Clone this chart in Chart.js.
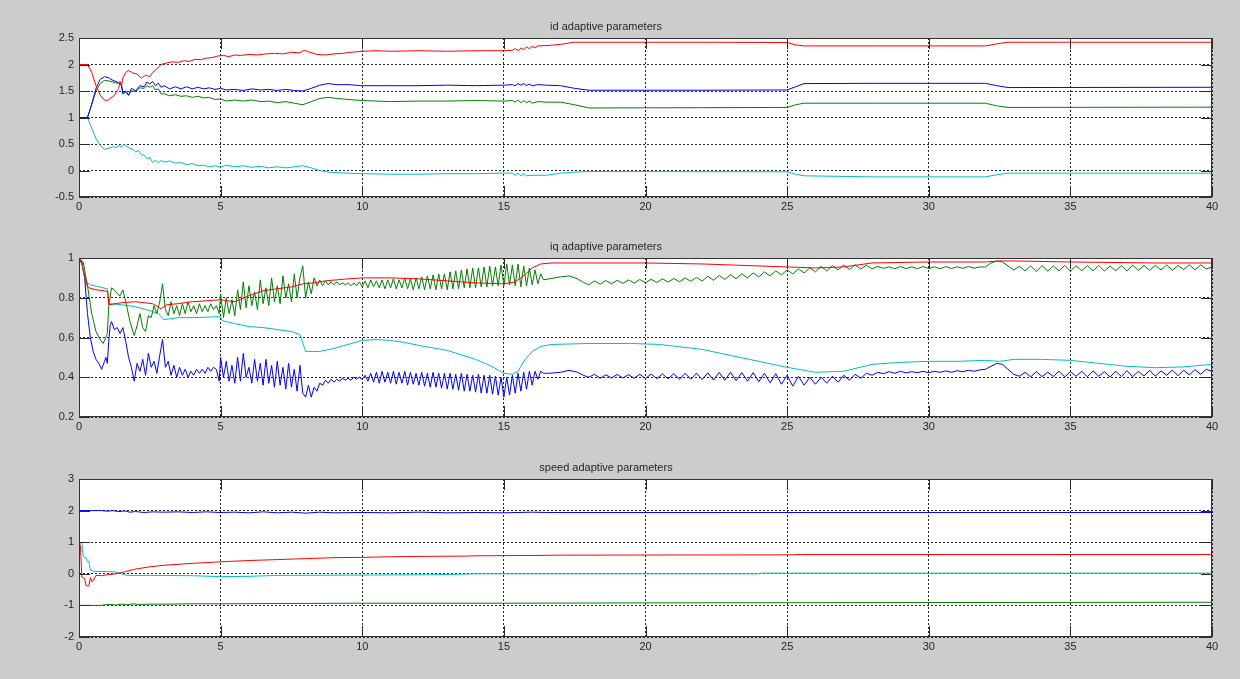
<!DOCTYPE html>
<html>
<head>
<meta charset="utf-8">
<title>adaptive parameters</title>
<script src="https://cdn.jsdelivr.net/npm/chart.js@4.4.1/dist/chart.umd.min.js"></script>
<style>
  html, body { margin: 0; padding: 0; background: #cccccc; }
  body { width: 1240px; height: 679px; position: relative; overflow: hidden; }
  canvas { position: absolute; left: 0; }
</style>
</head>
<body>
<canvas id="idChart" width="1240" height="225" style="top:0px"></canvas>
<canvas id="iqChart" width="1240" height="220" style="top:225px"></canvas>
<canvas id="spChart" width="1240" height="234" style="top:445px"></canvas>
<script>
// ---- time axis (seconds) ----
const timeTicks = [0, 5, 10, 15, 20, 25, 30, 35, 40];
const timeLabels = ['0', '5', '10', '15', '20', '25', '30', '35', '40'];

// ---- id adaptive parameters ----
const idTitle = 'id adaptive parameters';
const idTicks = [-0.5, 0, 0.5, 1, 1.5, 2, 2.5];
const idLabels = ['-0.5', '0', '0.5', '1', '1.5', '2', '2.5'];
const idRed = [[0,2],[0.3,2],[0.45,1.85],[0.6,1.6],[0.75,1.42],[0.9,1.33],[1.0,1.32],[1.1,1.36],[1.25,1.42],[1.4,1.55],[1.45,1.68],[1.5,1.6],[1.55,1.75],[1.65,1.85],[1.75,1.89],[1.9,1.84],[2.05,1.82],[2.2,1.74],[2.35,1.8],[2.5,1.77],[2.6,1.85],[2.75,1.92],[2.9,2.0],[3.1,2.03],[3.3,2.05],[3.5,2.04],[3.7,2.07],[3.9,2.06],[4.1,2.1],[4.3,2.09],[4.5,2.12],[4.7,2.13],[4.9,2.16],[5.1,2.17],[5.3,2.15],[5.5,2.18],[5.7,2.17],[6,2.19],[6.3,2.18],[6.6,2.2],[6.9,2.21],[7.2,2.2],[7.5,2.23],[7.8,2.22],[7.95,2.27],[8.1,2.24],[8.4,2.19],[8.7,2.18],[9,2.2],[9.3,2.21],[9.6,2.23],[10,2.25],[10.5,2.26],[11,2.25],[12,2.26],[13,2.25],[14,2.26],[15,2.26],[15.3,2.27],[15.4,2.3],[15.5,2.26],[15.6,2.31],[15.7,2.28],[15.8,2.33],[15.9,2.3],[16.0,2.34],[16.1,2.32],[16.2,2.35],[16.6,2.36],[17,2.38],[17.5,2.42],[18,2.42],[22,2.42],[25,2.415],[25.3,2.37],[25.6,2.35],[28,2.35],[32,2.35],[32.4,2.39],[32.8,2.42],[40,2.42]];
const idBlue = [[0,1],[0.3,1],[0.45,1.25],[0.6,1.55],[0.75,1.72],[0.9,1.77],[1.05,1.75],[1.2,1.7],[1.4,1.66],[1.5,1.62],[1.55,1.45],[1.65,1.5],[1.75,1.42],[1.85,1.55],[2.0,1.5],[2.15,1.6],[2.3,1.58],[2.4,1.67],[2.5,1.63],[2.6,1.68],[2.7,1.6],[2.8,1.65],[2.9,1.57],[3.0,1.6],[3.2,1.54],[3.4,1.58],[3.6,1.54],[3.8,1.58],[4.0,1.54],[4.2,1.57],[4.4,1.54],[4.6,1.56],[4.8,1.53],[5.0,1.55],[5.2,1.52],[5.5,1.53],[5.8,1.51],[6.1,1.54],[6.4,1.52],[6.7,1.53],[7.0,1.51],[7.3,1.53],[7.6,1.51],[7.9,1.5],[8.2,1.55],[8.5,1.61],[8.8,1.64],[9.1,1.62],[9.5,1.62],[10,1.6],[11,1.6],[12,1.6],[13,1.61],[14,1.6],[15,1.61],[15.3,1.62],[15.4,1.6],[15.5,1.64],[15.6,1.61],[15.7,1.64],[15.8,1.6],[15.9,1.63],[16.0,1.6],[16.2,1.62],[16.5,1.61],[17,1.6],[17.5,1.55],[18,1.515],[22,1.515],[25,1.52],[25.3,1.58],[25.6,1.64],[28,1.645],[32,1.645],[32.4,1.6],[32.8,1.565],[40,1.57]];
const idGreen = [[0,1],[0.3,1],[0.45,1.25],[0.6,1.5],[0.75,1.64],[0.9,1.7],[1.05,1.69],[1.2,1.67],[1.4,1.64],[1.5,1.6],[1.55,1.45],[1.65,1.48],[1.75,1.42],[1.85,1.5],[2.0,1.49],[2.15,1.56],[2.3,1.55],[2.4,1.6],[2.5,1.57],[2.6,1.6],[2.7,1.52],[2.8,1.54],[2.9,1.44],[3.0,1.45],[3.2,1.41],[3.4,1.43],[3.6,1.4],[3.8,1.41],[4.0,1.38],[4.2,1.4],[4.4,1.37],[4.6,1.38],[4.8,1.34],[5.0,1.35],[5.2,1.31],[5.5,1.33],[5.8,1.31],[6.1,1.33],[6.4,1.3],[6.7,1.31],[7.0,1.28],[7.3,1.3],[7.6,1.27],[7.9,1.24],[8.2,1.3],[8.5,1.36],[8.8,1.38],[9.1,1.36],[9.5,1.34],[10,1.32],[11,1.3],[12,1.31],[13,1.31],[14,1.32],[15,1.31],[15.3,1.32],[15.4,1.29],[15.5,1.33],[15.6,1.28],[15.7,1.32],[15.8,1.28],[15.9,1.31],[16.0,1.27],[16.2,1.3],[16.5,1.29],[17,1.29],[17.5,1.24],[18,1.18],[22,1.185],[25,1.19],[25.3,1.24],[25.6,1.27],[28,1.27],[32,1.27],[32.4,1.22],[32.8,1.19],[40,1.195]];
const idCyan = [[0,1],[0.3,1],[0.45,0.8],[0.6,0.6],[0.75,0.47],[0.9,0.4],[1.05,0.42],[1.2,0.45],[1.3,0.43],[1.4,0.47],[1.5,0.44],[1.6,0.5],[1.7,0.45],[1.8,0.42],[1.9,0.4],[2.0,0.35],[2.1,0.38],[2.2,0.3],[2.3,0.29],[2.4,0.22],[2.5,0.25],[2.6,0.15],[2.7,0.2],[2.8,0.14],[2.9,0.19],[3.0,0.16],[3.2,0.18],[3.4,0.14],[3.6,0.15],[3.8,0.11],[4.0,0.13],[4.2,0.09],[4.4,0.1],[4.6,0.07],[4.8,0.09],[5.0,0.06],[5.2,0.1],[5.5,0.07],[5.8,0.09],[6.1,0.06],[6.4,0.08],[6.7,0.05],[7.0,0.07],[7.3,0.05],[7.6,0.07],[7.9,0.09],[8.2,0.05],[8.5,0.0],[8.8,-0.03],[9.1,-0.04],[9.5,-0.05],[10,-0.06],[11,-0.07],[12,-0.07],[13,-0.06],[14,-0.06],[15,-0.05],[15.3,-0.05],[15.4,-0.09],[15.5,-0.05],[15.6,-0.1],[15.7,-0.06],[15.8,-0.1],[16,-0.09],[16.5,-0.09],[17,-0.05],[17.5,-0.03],[18,-0.02],[25,-0.025],[25.3,-0.07],[25.6,-0.1],[28,-0.12],[32,-0.12],[32.4,-0.08],[32.8,-0.05],[40,-0.05]];

// ---- iq adaptive parameters ----
const iqTitle = 'iq adaptive parameters';
const iqTicks = [0.2, 0.4, 0.6, 0.8, 1];
const iqLabels = ['0.2', '0.4', '0.6', '0.8', '1'];
const iqRed = [[0,1],[0.1,0.97],[0.25,0.87],[0.35,0.85],[0.6,0.84],[0.9,0.835],[1.02,0.83],[1.05,0.765],[1.5,0.775],[2,0.78],[2.3,0.775],[2.6,0.77],[2.9,0.745],[3.1,0.765],[3.5,0.77],[4,0.78],[4.5,0.785],[5,0.79],[5.5,0.78],[6,0.81],[6.5,0.835],[7,0.845],[7.5,0.855],[7.9,0.87],[8.3,0.875],[8.7,0.885],[9.5,0.895],[10,0.9],[11,0.9],[12,0.895],[13,0.885],[14,0.875],[15,0.87],[15.4,0.88],[15.7,0.91],[16,0.95],[16.3,0.97],[16.7,0.975],[18,0.975],[20,0.975],[22,0.97],[24,0.96],[25,0.955],[26,0.95],[27,0.955],[28,0.975],[30,0.98],[32,0.98],[32.5,0.985],[33,0.985],[35,0.98],[38,0.975],[40,0.975]];
const iqCyan = [[0,1],[0.1,0.97],[0.25,0.88],[0.4,0.865],[0.7,0.855],[1.0,0.845],[1.05,0.77],[1.5,0.765],[2,0.755],[2.5,0.735],[2.8,0.72],[3,0.69],[3.5,0.7],[4,0.7],[5,0.705],[5.05,0.685],[5.5,0.67],[6,0.655],[6.5,0.65],[7,0.64],[7.5,0.63],[7.8,0.615],[8.0,0.53],[8.5,0.53],[9,0.545],[9.5,0.565],[10,0.585],[10.5,0.59],[11,0.585],[11.5,0.575],[12,0.56],[13,0.535],[14,0.49],[14.5,0.46],[15,0.42],[15.3,0.415],[15.5,0.43],[15.7,0.48],[16,0.53],[16.3,0.555],[16.7,0.565],[18,0.57],[19.5,0.57],[20.5,0.565],[22,0.54],[23,0.51],[24,0.48],[25,0.45],[26,0.425],[27,0.43],[28,0.465],[29,0.475],[30,0.48],[31,0.48],[32,0.485],[32.5,0.48],[33,0.49],[34,0.49],[35,0.485],[36,0.47],[37,0.455],[38,0.448],[39,0.452],[40,0.465]];
const iqGreenStart = [[0,1],[0.15,0.98],[0.3,0.86],[0.45,0.72],[0.6,0.63],[0.75,0.59],[0.85,0.57],[0.95,0.6],[1.0,0.62],[1.05,0.76],[1.15,0.85],[1.25,0.84],[1.35,0.82],[1.45,0.81],[1.55,0.84],[1.65,0.78],[1.8,0.68],[1.95,0.61],[2.05,0.66],[2.15,0.72],[2.25,0.65],[2.35,0.63],[2.45,0.71],[2.55,0.7],[2.65,0.76],[2.75,0.72],[2.85,0.78],[2.95,0.87],[3.05,0.74],[3.15,0.71],[3.25,0.78],[3.35,0.72],[3.45,0.76],[3.55,0.71],[3.65,0.77],[3.75,0.72],[3.85,0.78],[3.95,0.73],[4.05,0.76],[4.15,0.72],[4.25,0.77],[4.35,0.73],[4.45,0.76],[4.55,0.73],[4.65,0.77],[4.75,0.74],[4.85,0.76],[4.95,0.72]];
// samples every 0.1 s from 5.0 s
const iqGreenMid = [0.82,0.70,0.80,0.72,0.79,0.71,0.84,0.74,0.88,0.75,
  0.86,0.76,0.83,0.74,0.89,0.77,0.85,0.76,0.90,0.78,
  0.86,0.77,0.91,0.80,0.87,0.78,0.92,0.80,0.90,0.96,
  0.80,0.88,0.82,0.90,0.86,0.89,0.86,0.885,0.865,0.88,
  0.865,0.88,0.865,0.875,0.865,0.875,0.86,0.875,0.86,0.88,
  0.855,0.885,0.85,0.89,0.855,0.885,0.85,0.89,0.845,0.89,
  0.85,0.895,0.845,0.89,0.85,0.9,0.845,0.895,0.84,0.9,
  0.845,0.905,0.84,0.91,0.845,0.915,0.84,0.92,0.845,0.92,
  0.84,0.93,0.845,0.935,0.845,0.94,0.85,0.945,0.85,0.95,
  0.85,0.95,0.855,0.955,0.855,0.96,0.86,0.955,0.86,0.965,
  0.86,0.97,0.865,0.965,0.86,0.97,0.855,0.96,0.86,0.95,
  0.865,0.94,0.87,0.92,0.89];
const iqGreenBridge = [[16.6,0.895],[17.0,0.905],[17.3,0.91],[17.6,0.895],[17.8,0.878]];
// samples every 0.2 s from 18.0 s
const iqGreenEnd = [0.865,0.885,0.868,0.887,0.87,0.888,0.872,0.89,0.873,0.892,
  0.875,0.893,0.877,0.895,0.879,0.897,0.88,0.9,0.882,0.903,
  0.884,0.908,0.888,0.912,0.892,0.916,0.896,0.92,0.9,0.925,
  0.905,0.93,0.91,0.935,0.915,0.94,0.92,0.945,0.925,0.95,
  0.93,0.958,0.935,0.962,0.94,0.965,0.942,0.966,0.944,0.964,
  0.945,0.958,0.948,0.956,0.946,0.957,0.947,0.956,0.946,0.957,
  0.947,0.956,0.946,0.957,0.947,0.956,0.948,0.957,0.949,0.955,
  0.955,0.975,0.985,0.98,0.96,0.94,0.958,0.935,0.96,0.932,
  0.962,0.934,0.96,0.935,0.963,0.933,0.961,0.936,0.962,0.935,
  0.963,0.934,0.96,0.936,0.962,0.935,0.964,0.937,0.962,0.938,
  0.963,0.94,0.965,0.938,0.962,0.942,0.966,0.94,0.965,0.945,
  0.955];
const iqBlueStart = [[0,1],[0.1,0.98],[0.2,0.9],[0.3,0.72],[0.4,0.6],[0.5,0.53],[0.6,0.49],[0.7,0.47],[0.8,0.44],[0.9,0.48],[0.95,0.5],[1.0,0.47],[1.05,0.58],[1.1,0.66],[1.15,0.68],[1.25,0.64],[1.35,0.65],[1.45,0.62],[1.55,0.65],[1.65,0.58],[1.75,0.5],[1.85,0.45],[1.95,0.38],[2.05,0.47],[2.15,0.43],[2.25,0.49],[2.35,0.41],[2.45,0.52],[2.55,0.45],[2.65,0.48],[2.75,0.42],[2.85,0.51],[2.95,0.59],[3.05,0.45],[3.15,0.48],[3.25,0.41],[3.35,0.46],[3.45,0.4],[3.55,0.45],[3.65,0.41],[3.75,0.44],[3.85,0.4],[3.95,0.43],[4.05,0.41],[4.15,0.44],[4.25,0.42],[4.35,0.44],[4.45,0.42],[4.55,0.45],[4.65,0.43],[4.75,0.45],[4.85,0.44],[4.95,0.38]];
// samples every 0.1 s from 5.0 s
const iqBlueMid = [0.50,0.40,0.48,0.38,0.46,0.37,0.50,0.38,0.52,0.40,
  0.45,0.37,0.49,0.38,0.47,0.36,0.49,0.37,0.46,0.35,
  0.48,0.36,0.45,0.34,0.47,0.35,0.44,0.33,0.46,0.32,
  0.30,0.36,0.30,0.35,0.33,0.37,0.36,0.385,0.37,0.39,
  0.375,0.39,0.38,0.395,0.385,0.395,0.385,0.40,0.39,0.40,
  0.39,0.41,0.38,0.42,0.375,0.425,0.37,0.43,0.375,0.425,
  0.37,0.43,0.365,0.425,0.37,0.43,0.36,0.425,0.365,0.42,
  0.36,0.425,0.355,0.42,0.35,0.425,0.35,0.42,0.345,0.42,
  0.34,0.42,0.34,0.415,0.335,0.42,0.33,0.415,0.33,0.41,
  0.325,0.415,0.32,0.41,0.32,0.41,0.315,0.405,0.31,0.40,
  0.30,0.40,0.31,0.41,0.32,0.42,0.33,0.425,0.34,0.43,
  0.36,0.43,0.39,0.43,0.42];
const iqBlueBridge = [[16.6,0.42],[17.0,0.425],[17.3,0.435],[17.6,0.425],[17.8,0.41]];
// samples every 0.2 s from 18.0 s
const iqBlueEnd = [0.40,0.415,0.395,0.412,0.397,0.414,0.396,0.413,0.395,0.415,
  0.394,0.416,0.393,0.417,0.392,0.418,0.39,0.42,0.39,0.42,
  0.388,0.422,0.386,0.424,0.385,0.425,0.383,0.424,0.38,0.423,
  0.378,0.42,0.372,0.418,0.365,0.41,0.355,0.405,0.36,0.40,
  0.365,0.40,0.37,0.405,0.375,0.41,0.385,0.415,0.395,0.42,
  0.41,0.425,0.418,0.428,0.42,0.43,0.422,0.428,0.423,0.43,
  0.423,0.43,0.425,0.432,0.425,0.433,0.428,0.435,0.43,0.437,
  0.44,0.455,0.47,0.465,0.44,0.415,0.405,0.425,0.402,0.428,
  0.403,0.426,0.404,0.43,0.402,0.428,0.405,0.43,0.403,0.432,
  0.405,0.428,0.402,0.43,0.404,0.433,0.403,0.43,0.406,0.435,
  0.405,0.432,0.41,0.436,0.408,0.435,0.412,0.438,0.415,0.44,
  0.43];

// ---- speed adaptive parameters ----
const spTitle = 'speed adaptive parameters';
const spTicks = [-2, -1, 0, 1, 2, 3];
const spLabels = ['-2', '-1', '0', '1', '2', '3'];
const spBlue = [[0,2],[0.8,2],[1.0,1.98],[1.2,2.0],[1.4,1.97],[1.6,1.99],[1.8,1.95],[2.0,1.97],[2.3,1.94],[2.6,1.96],[3,1.95],[3.5,1.96],[4,1.94],[4.5,1.96],[5,1.94],[5.5,1.95],[6,1.93],[6.5,1.96],[7,1.93],[7.5,1.95],[8,1.92],[8.5,1.95],[9,1.93],[10,1.94],[11,1.93],[12,1.95],[13,1.93],[14,1.94],[15,1.93],[16,1.95],[16.5,1.94],[40,1.94]];
const spRed = [[0,0.97],[0.05,0.9],[0.1,-0.1],[0.2,-0.15],[0.25,-0.38],[0.35,-0.38],[0.4,-0.12],[0.45,-0.25],[0.5,-0.22],[0.6,-0.05],[0.8,-0.06],[1.0,-0.03],[1.3,0.0],[1.6,0.06],[2.0,0.15],[2.5,0.22],[3,0.27],[4,0.33],[5,0.38],[6,0.42],[7,0.45],[8,0.48],[9,0.51],[10,0.52],[11,0.54],[12,0.55],[13.7,0.56],[14,0.57],[16,0.58],[17,0.59],[25,0.6],[25.5,0.61],[40,0.61]];
const spCyan = [[0,1.0],[0.1,0.95],[0.15,0.55],[0.25,0.5],[0.3,0.38],[0.35,0.4],[0.4,0.12],[0.5,0.08],[1.0,0.07],[1.3,0.06],[1.5,0.0],[1.7,-0.05],[2.5,-0.05],[4,-0.06],[5,-0.09],[6,-0.08],[7,-0.05],[10,-0.04],[12.5,-0.03],[13.6,-0.01],[14,0.0],[24,0.0],[24.1,0.02],[40,0.02]];
const spGreen = [[0,-1],[0.8,-1],[0.9,-0.98],[1.1,-0.97],[1.3,-0.99],[1.5,-0.96],[1.7,-0.98],[1.9,-0.95],[2.1,-0.97],[2.5,-0.96],[3,-0.96],[4,-0.95],[5,-0.95],[7,-0.94],[10,-0.93],[15,-0.93],[20,-0.92],[30,-0.91],[40,-0.9]];

// ---- helpers ----
const COLORS = { red: '#ff0000', blue: '#0000ff', green: '#008000', cyan: '#00bfbf' };
const FONT = { family: '"Liberation Sans", Arial, sans-serif', size: 11 };
const TEXT = '#262626';

function pairs(list) { return list.map(p => ({ x: p[0], y: p[1] })); }
function sampled(t0, dt, values) {
  return values.map((v, i) => ({ x: Math.round((t0 + i * dt) * 100) / 100, y: v }));
}
function series(data, color) {
  return { data, borderColor: color, borderWidth: 1, pointRadius: 0, tension: 0, fill: false };
}

// inward tick marks and the box round the plot area
const boxAxes = {
  id: 'boxAxes',
  afterDatasetsDraw(chart) {
    const { ctx, chartArea: a, scales } = chart;
    const len = 11;
    ctx.save();
    ctx.setLineDash([]);
    ctx.strokeStyle = '#2b2b2b';
    ctx.lineWidth = 1;
    ctx.beginPath();
    scales.x.ticks.forEach(t => {
      const px = Math.round(scales.x.getPixelForValue(t.value)) + 0.5;
      ctx.moveTo(px, a.top); ctx.lineTo(px, a.top + len);
      ctx.moveTo(px, a.bottom); ctx.lineTo(px, a.bottom - len);
    });
    scales.y.ticks.forEach(t => {
      const py = Math.round(scales.y.getPixelForValue(t.value)) + 0.5;
      ctx.moveTo(a.left, py); ctx.lineTo(a.left + len, py);
      ctx.moveTo(a.right, py); ctx.lineTo(a.right - len, py);
    });
    ctx.stroke();
    ctx.strokeStyle = '#333333';
    ctx.strokeRect(Math.round(a.left) + 0.5, Math.round(a.top) + 0.5,
      Math.round(a.right - a.left) - 1, Math.round(a.bottom - a.top) - 1);
    ctx.restore();
  }
};

// white plot area on the grey figure
const plotBackground = {
  id: 'plotBackground',
  beforeDraw(chart) {
    const { ctx, chartArea: a } = chart;
    ctx.save();
    ctx.fillStyle = '#ffffff';
    ctx.fillRect(a.left, a.top, a.right - a.left, a.bottom - a.top);
    ctx.restore();
  }
};

function makeChart(canvasId, title, titleTop, xHeight, yMin, yMax, yTicks, yLabels, datasets) {
  return new Chart(document.getElementById(canvasId), {
    type: 'line',
    data: { datasets },
    plugins: [plotBackground, boxAxes],
    options: {
      responsive: false,
      animation: false,
      devicePixelRatio: 1,
      events: [],
      layout: { padding: { left: 0, right: 28, top: 0, bottom: 0 } },
      plugins: {
        legend: { display: false },
        tooltip: { enabled: false },
        title: {
          display: true, text: title, color: TEXT,
          font: { family: FONT.family, size: 11, weight: 'normal', lineHeight: 1.2 },
          padding: { top: titleTop, bottom: 4.4 }
        }
      },
      scales: {
        x: {
          type: 'linear', min: 0, max: 40,
          afterBuildTicks: s => { s.ticks = timeTicks.map(v => ({ value: v })); },
          afterFit: s => { s.height = xHeight; },
          ticks: {
            color: TEXT, font: FONT, padding: 3, maxRotation: 0, autoSkip: false,
            callback: v => timeLabels[timeTicks.indexOf(v)]
          },
          grid: { color: 'rgba(0,0,0,0.85)', lineWidth: 1, drawTicks: false },
          border: { display: false, dash: [2, 2] }
        },
        y: {
          type: 'linear', min: yMin, max: yMax,
          afterBuildTicks: s => { s.ticks = yTicks.map(v => ({ value: v })); },
          afterFit: s => { s.width = 79; },
          ticks: {
            color: TEXT, font: FONT, padding: 5, autoSkip: false,
            callback: v => yLabels[yTicks.indexOf(v)]
          },
          grid: { color: 'rgba(0,0,0,0.85)', lineWidth: 1, drawTicks: false },
          border: { display: false, dash: [2, 2] }
        }
      }
    }
  });
}

makeChart('idChart', idTitle, 20.4, 28, -0.5, 2.5, idTicks, idLabels, [
  series(pairs(idRed), COLORS.red),
  series(pairs(idBlue), COLORS.blue),
  series(pairs(idGreen), COLORS.green),
  series(pairs(idCyan), COLORS.cyan)
]);

makeChart('iqChart', iqTitle, 15.4, 28, 0.2, 1, iqTicks, iqLabels, [
  series(pairs(iqRed), COLORS.red),
  series(pairs(iqGreenStart).concat(sampled(5.0, 0.1, iqGreenMid), pairs(iqGreenBridge), sampled(18.0, 0.2, iqGreenEnd)), COLORS.green),
  series(pairs(iqCyan), COLORS.cyan),
  series(pairs(iqBlueStart).concat(sampled(5.0, 0.1, iqBlueMid), pairs(iqBlueBridge), sampled(18.0, 0.2, iqBlueEnd)), COLORS.blue)
]);

makeChart('spChart', spTitle, 16.4, 42, -2, 3, spTicks, spLabels, [
  series(pairs(spBlue), COLORS.blue),
  series(pairs(spRed), COLORS.red),
  series(pairs(spCyan), COLORS.cyan),
  series(pairs(spGreen), COLORS.green)
]);
</script>
</body>
</html>
